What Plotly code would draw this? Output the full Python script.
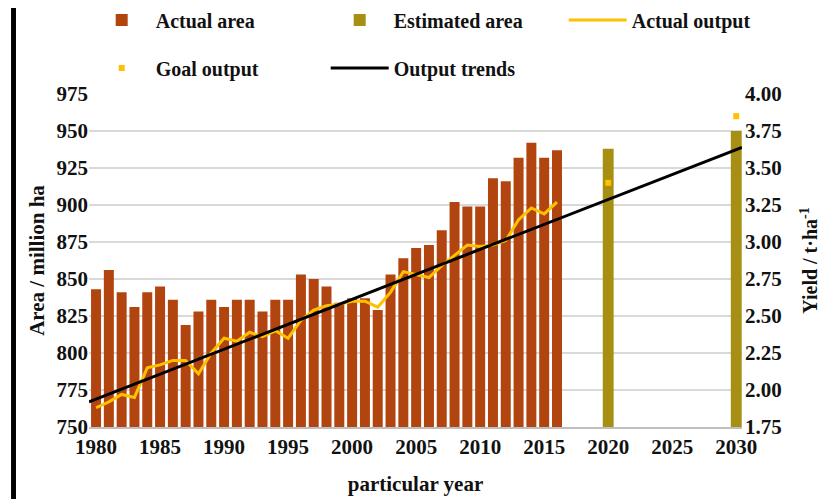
import plotly.graph_objects as go

# Actual planted area (million ha), 1980-2016
actual_years = list(range(1980, 2017))
actual_area = [843, 856, 841, 831, 841, 845, 836, 819, 828, 836,
               831, 836, 836, 828, 836, 836, 853, 850, 845, 834,
               837, 837, 829, 853, 864, 871, 873, 883, 902, 899,
               899, 918, 916, 932, 942, 932, 937]

# Actual yield (t/ha), 1980-2016
actual_output = [1.88, 1.92, 1.97, 1.95, 2.15, 2.17, 2.20, 2.20, 2.11, 2.25,
                 2.35, 2.33, 2.39, 2.36, 2.40, 2.35, 2.47, 2.54, 2.57, 2.58,
                 2.60, 2.60, 2.56, 2.66, 2.80, 2.78, 2.76, 2.84, 2.91, 2.98,
                 2.97, 2.98, 3.01, 3.15, 3.23, 3.19, 3.27]

# Estimated area and goal yield
goal_years = [2020, 2030]
estimated_area = [938, 950]
goal_output = [3.40, 3.85]

# Linear output trend (end points)
trend_years = [1979.45, 2030.45]
trend_output = [1.92, 3.64]

x_ticks = list(range(1980, 2031, 5))
area_ticks = list(range(750, 976, 25))
yield_ticks = [1.75, 2.00, 2.25, 2.50, 2.75, 3.00, 3.25, 3.50, 3.75, 4.00]

FONT = "Liberation Serif"
BOLD = dict(family=FONT, size=21, color="#111111", weight="bold")
LEG_FONT = dict(family=FONT, size=20, color="#111111", weight="bold")

fig = go.Figure()

fig.add_trace(go.Bar(x=actual_years, y=actual_area, name="Actual area",
                     marker=dict(color="#B2440F", line=dict(width=0)),
                     width=0.78, legend="legend"))
fig.add_trace(go.Bar(x=goal_years, y=estimated_area, name="Estimated area",
                     marker=dict(color="#A68F12", line=dict(width=0)),
                     width=0.85, legend="legend"))
fig.add_trace(go.Scatter(x=actual_years, y=actual_output, name="Actual output",
                         mode="lines", line=dict(color="#FFC000", width=3),
                         yaxis="y2", legend="legend"))
fig.add_trace(go.Scatter(x=goal_years, y=goal_output, name="Goal output",
                         mode="markers",
                         marker=dict(color="#FFC000", size=6, symbol="square"),
                         yaxis="y2", legend="legend2"))
fig.add_trace(go.Scatter(x=trend_years, y=trend_output, name="Output trends",
                         mode="lines", line=dict(color="#000000", width=3),
                         yaxis="y2", legend="legend2"))

# legends sit above the plot; x slightly < 0 lets rows use the full width
legend_style = dict(orientation="h", entrywidth=165, entrywidthmode="pixels",
                    itemwidth=58, xanchor="left", yanchor="middle",
                    font=LEG_FONT, bgcolor="rgba(0,0,0,0)", traceorder="normal")

# page body adds an 8px offset, so the figure is 822x491
fig.update_layout(
    width=822, height=491,
    margin=dict(l=81, r=88, t=86, b=72, autoexpand=False),
    paper_bgcolor="white", plot_bgcolor="white",
    barmode="overlay",
    font=dict(family=FONT, size=21, color="#111111"),
    showlegend=True,
    legend=dict(x=-0.002, y=1.222, **legend_style),
    legend2=dict(x=-0.002, y=1.078, **legend_style),
    xaxis=dict(
        range=[1979.45, 2030.45],
        tickmode="array", tickvals=x_ticks,
        showgrid=False, zeroline=False,
        showline=True, linecolor="#BFBFBF", linewidth=2,
        tickfont=BOLD,
        title=dict(text="<b>particular year</b>", standoff=18,
                   font=dict(family=FONT, size=21)),
    ),
    yaxis=dict(
        range=[750, 975], tickmode="array", tickvals=area_ticks,
        showgrid=True, gridcolor="#D9D9D9", gridwidth=2,
        zeroline=False, showline=False,
        tickfont=BOLD,
        title=dict(text="<b>Area / million ha</b>", standoff=6,
                   font=dict(family=FONT, size=21)),
    ),
    yaxis2=dict(
        range=[1.75, 4.0], tickmode="array", tickvals=yield_ticks,
        tickformat=".2f", overlaying="y", side="right",
        showgrid=False, zeroline=False, showline=False,
        tickfont=BOLD, ticklabelstandoff=2,
        title=dict(text="<b>Yield / t·ha<sup>-1</sup></b>", standoff=22,
                   font=dict(family=FONT, size=20)),
    ),
    shapes=[dict(type="rect", xref="paper", yref="paper",
                 x0=-0.1194, x1=-0.1118, y0=-0.25, y1=1.29,
                 fillcolor="black", line=dict(width=0), layer="above")],
)

fig.write_html("out.html")
